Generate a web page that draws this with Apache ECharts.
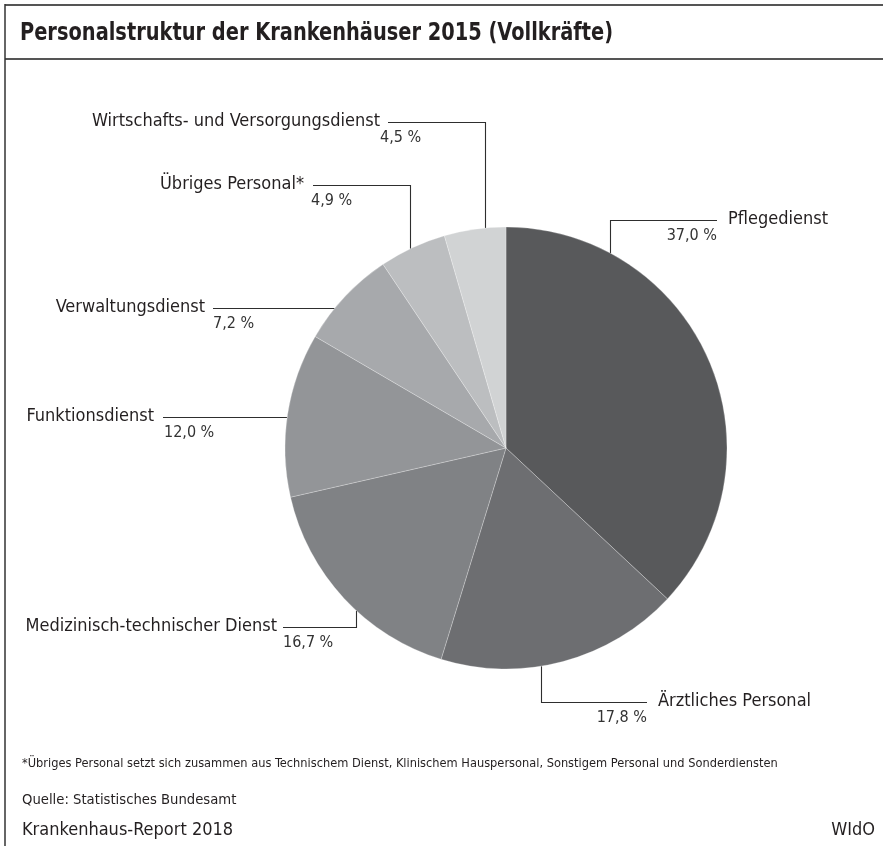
<!DOCTYPE html>
<html><head><meta charset="utf-8">
<script src="https://cdn.jsdelivr.net/npm/echarts@6/dist/echarts.min.js"></script>
<style>html,body{margin:0;padding:0;background:#fff}#c{width:883px;height:846px}</style>
</head><body><div id="c"></div>
<script>
const categories = ['Pflegedienst','Ärztliches Personal','Medizinisch-technischer Dienst','Funktionsdienst','Verwaltungsdienst','Übriges Personal*','Wirtschafts- und Versorgungsdienst'];
const shares = [37.0, 17.8, 16.7, 12.0, 7.2, 4.9, 4.5];
const sliceColors = ['#58595b','#6d6e71','#808285','#939598','#a7a9ac','#bcbec0','#d1d3d4'];

const FONT = '"Liberation Sans Narrow","DejaVu Sans Condensed","Liberation Sans",sans-serif';
const CX = 506, CY = 448, R = 221;
// label placement (layout only)
const labelPos = [
  {side:'R', nameX:728, pctX:717, lineY:220, elbowX:610, lineEnd:717},
  {side:'R', nameX:658, pctX:647, lineY:702, elbowX:541, lineEnd:647},
  {side:'L', nameX:277, pctX:283, lineY:627, elbowX:356, lineEnd:283},
  {side:'L', nameX:154, pctX:164, lineY:417, elbowX:null, lineEnd:163},
  {side:'L', nameX:205, pctX:213, lineY:308, elbowX:null, lineEnd:213},
  {side:'L', nameX:304, pctX:311, lineY:185, elbowX:410, lineEnd:313},
  {side:'L', nameX:380, pctX:380, lineY:122, elbowX:485, lineEnd:388}
];
function linePts(L){
  const ly = L.lineY + 0.5;
  if (L.elbowX != null) {
    const ex = L.elbowX + 0.5;
    const d = Math.sqrt(R*R - (ex-CX)*(ex-CX));
    const ey = ly < CY ? CY - d : CY + d;
    return [[ex, ey],[ex, ly],[L.lineEnd, ly]];
  }
  const ex = CX - Math.sqrt(R*R - (ly-CY)*(ly-CY));
  return [[ex, ly],[(ex+L.lineEnd)/2, ly],[L.lineEnd, ly]];
}
const data = categories.map((n,i)=>({name:n, value:shares[i], itemStyle:{color:sliceColors[i]}}));
const fmtPct = v => v.toFixed(1).replace('.', ',') + ' %';

const chart = echarts.init(document.getElementById('c'), null, {renderer:'canvas'});
chart.setOption({
  animation:false,
  backgroundColor:'#fff',
  graphic:[
    {type:'line', shape:{x1:5,y1:5,x2:883,y2:5}, style:{stroke:'#555',lineWidth:2}},
    {type:'line', shape:{x1:5,y1:59,x2:883,y2:59}, style:{stroke:'#555',lineWidth:2}},
    {type:'line', shape:{x1:5,y1:4,x2:5,y2:846}, style:{stroke:'#333',lineWidth:1.5}},
    {type:'text', x:20, y:21, scaleX:0.88, style:{text:'Personalstruktur der Krankenhäuser 2015 (Vollkräfte)', font:'bold 24.5px '+FONT, fill:'#231f20'}},
    {type:'text', left:22, top:757, style:{text:'*Übriges Personal setzt sich zusammen aus Technischem Dienst, Klinischem Hauspersonal, Sonstigem Personal und Sonderdiensten', font:'12.7px '+FONT, fill:'#231f20'}},
    {type:'text', left:22, top:793, style:{text:'Quelle: Statistisches Bundesamt', font:'14.7px '+FONT, fill:'#231f20'}},
    {type:'text', left:22, top:821, style:{text:'Krankenhaus-Report 2018', font:'18px '+FONT, fill:'#231f20'}},
    {type:'text', right:8, top:821, style:{text:'WIdO', font:'18px '+FONT, fill:'#231f20'}}
  ],
  series:[
    {
      type:'pie', center:[CX,CY], radius:R, startAngle:90, clockwise:true,
      avoidLabelOverlap:false, silent:true,
      data: data,
      itemStyle:{borderColor:'rgba(255,255,255,0.5)', borderWidth:0.5},
      label:{show:true, formatter:'{b}', fontFamily:FONT, fontSize:18, color:'#231f20'},
      labelLine:{show:true, smooth:false, lineStyle:{color:'#2e2e2e', width:1.1}},
      labelLayout:function(p){
        const L = labelPos[p.dataIndex];
        return {x:L.nameX, y:L.lineY-1, align: L.side==='R'?'left':'right', verticalAlign:'middle', labelLinePoints: linePts(L)};
      }
    },
    {
      type:'pie', center:[CX,CY], radius:R, startAngle:90, clockwise:true,
      avoidLabelOverlap:false, silent:true, z:3,
      data: data.map(d=>({name:d.name, value:d.value})),
      itemStyle:{color:'rgba(0,0,0,0)', borderWidth:0},
      label:{show:true, formatter:p=>fmtPct(p.value), fontFamily:FONT, fontSize:16, color:'#333'},
      labelLine:{show:false},
      labelLayout:function(p){
        const L = labelPos[p.dataIndex];
        return {x:L.pctX, y:L.lineY+16, align: L.side==='R'?'right':'left', verticalAlign:'middle'};
      }
    }
  ]
});
</script></body></html>
